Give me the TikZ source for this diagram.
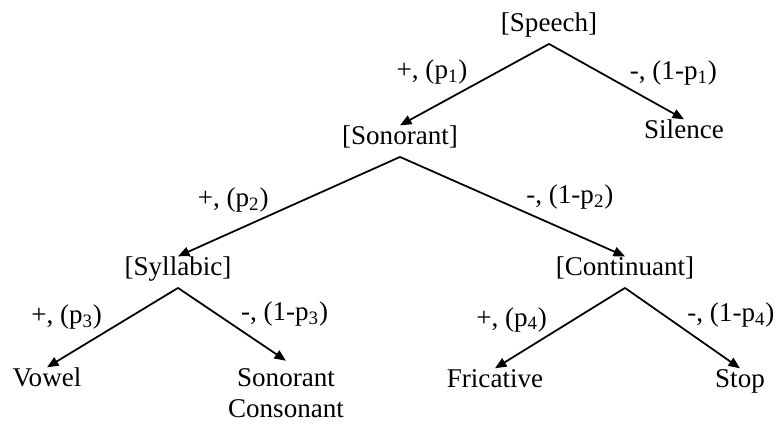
\documentclass[tikz,border=0pt]{standalone}
\usepackage{fontspec}
\setmainfont{Liberation Serif}
\newfontfamily\treefont{Liberation Serif}
\usetikzlibrary{arrows.meta}

\begin{document}
\begin{tikzpicture}[font=\treefont\fontsize{15.4}{18.2}\selectfont,
    feat/.style={anchor=base,text height=0.7em,text depth=0.26em,inner xsep=2pt,inner ysep=4pt},
    branch/.style={-{Triangle[length=0.23cm,width=0.19cm]},line width=1pt},
    prob/.style={inner sep=1pt}]
    \useasboundingbox (0,0) rectangle (15.52,-8.58);
    \node[feat] (speech) at (10.98,-0.64) {[Speech]};
    \node[feat] (sonorant) at (8.0,-2.9) {[Sonorant]};
    \node[feat] (silence) at (13.68,-2.78) {Silence};
    \node[feat] (syllabic) at (3.56,-5.52) {[Syllabic]};
    \node[feat] (continuant) at (12.5,-5.52) {[Continuant]};
    \node[feat] (vowel) at (0.94,-7.74) {Vowel};
    \node[anchor=base,align=center,inner ysep=4pt] (sonconsonant) at (5.72,-8.36) {Sonorant\\Consonant};
    \node[feat] (fricative) at (9.9,-7.76) {Fricative};
    \node[feat] (stop) at (14.8,-7.76) {Stop};
    \draw[branch] (speech.south)--node[prob,pos=0.53,above left]{+, (p\textsubscript{1})}(sonorant.north);
    \draw[branch] (speech.south)--node[prob,pos=0.58,above right]{-, (1-p\textsubscript{1})}(silence.north);
    \draw[branch] (sonorant.south)--node[prob,pos=0.58,above left]{+, (p\textsubscript{2})}(syllabic.north);
    \draw[branch] (sonorant.south)--node[prob,pos=0.55,above right]{-, (1-p\textsubscript{2})}(continuant.north);
    \draw[branch] (syllabic.south)--node[prob,pos=0.56,above left]{+, (p\textsubscript{3})}(vowel.north);
    \draw[branch] (syllabic.south)--node[prob,pos=0.56,above right]{-, (1-p\textsubscript{3})}(sonconsonant.north);
    \draw[branch] (continuant.south)--node[prob,pos=0.58,above left]{+, (p\textsubscript{4})}(fricative.north);
    \draw[branch] (continuant.south)--node[prob,pos=0.52,above right]{-, (1-p\textsubscript{4})}(stop.north);
  \end{tikzpicture}
\end{document}
